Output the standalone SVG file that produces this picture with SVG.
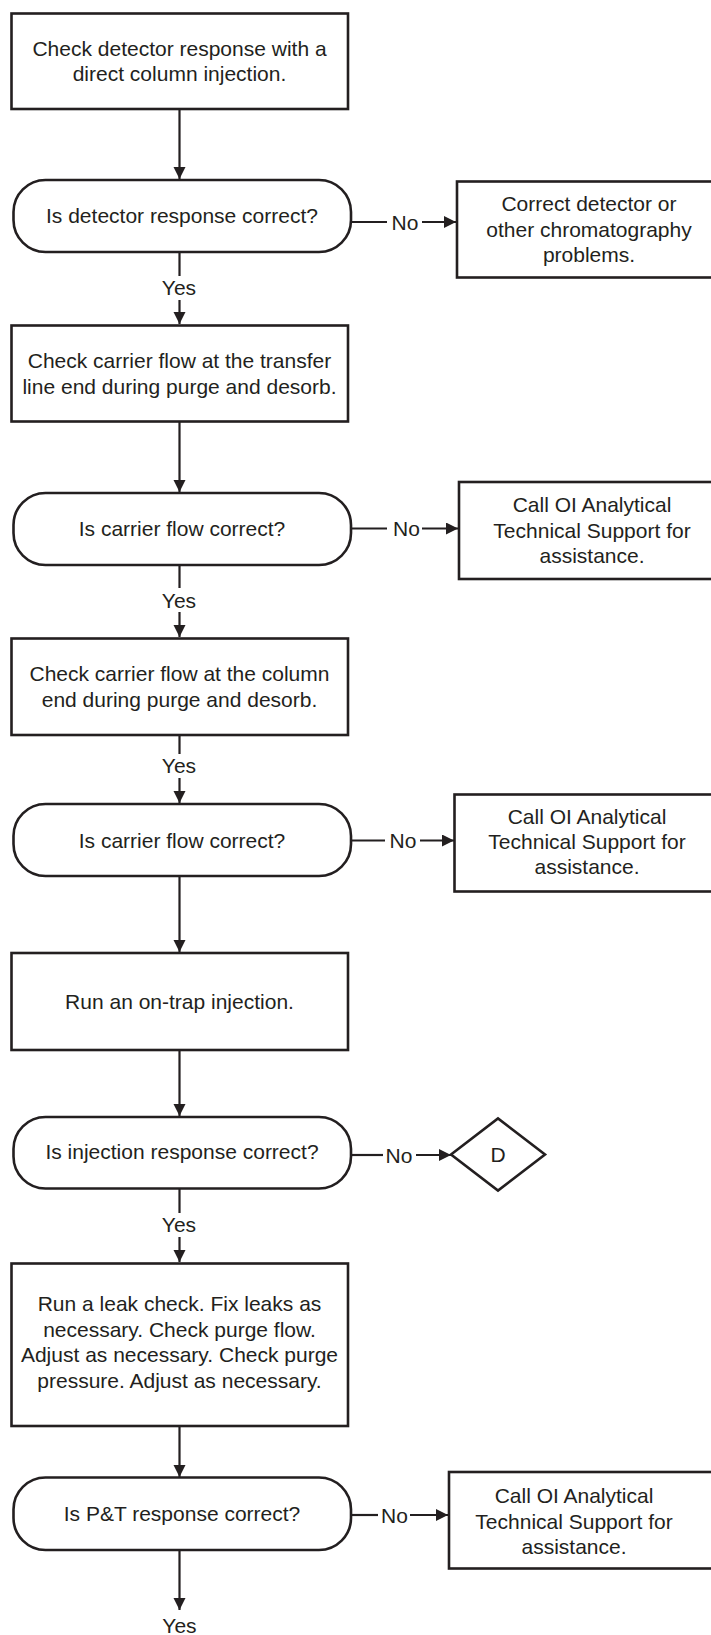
<svg xmlns="http://www.w3.org/2000/svg" width="711" height="1635" viewBox="0 0 711 1635">
<style>
.box{fill:#fff;stroke:#231f20;stroke-width:2.6}
.t{font-family:"Liberation Sans",Arial,sans-serif;font-size:21px;fill:#231f20;text-anchor:middle}
.c{fill:none;stroke:#231f20;stroke-width:2.2}
</style>
<defs>
<marker id="ah" markerUnits="userSpaceOnUse" markerWidth="13" markerHeight="13" refX="12" refY="6" orient="auto">
<path d="M0,0 L12,6 L0,12 z" fill="#231f20"/>
</marker>
</defs>
<rect width="711" height="1635" fill="#fff"/>
<g id="connectors">
<line class="c" x1="179.5" y1="109" x2="179.5" y2="179" marker-end="url(#ah)"/>
<line class="c" x1="351" y1="222" x2="387" y2="222"/>
<line class="c" x1="422" y1="222" x2="456" y2="222" marker-end="url(#ah)"/>
<text class="t" x="405" y="229.5">No</text>
<line class="c" x1="179.5" y1="252" x2="179.5" y2="276"/>
<text class="t" x="179" y="295">Yes</text>
<line class="c" x1="179.5" y1="300" x2="179.5" y2="324" marker-end="url(#ah)"/>
<line class="c" x1="179.5" y1="422" x2="179.5" y2="492" marker-end="url(#ah)"/>
<line class="c" x1="351" y1="528.5" x2="387" y2="528.5"/>
<line class="c" x1="422" y1="528.5" x2="458" y2="528.5" marker-end="url(#ah)"/>
<text class="t" x="406.5" y="536">No</text>
<line class="c" x1="179.5" y1="565" x2="179.5" y2="588"/>
<text class="t" x="179" y="607.5">Yes</text>
<line class="c" x1="179.5" y1="612" x2="179.5" y2="637" marker-end="url(#ah)"/>
<line class="c" x1="179.5" y1="735" x2="179.5" y2="754"/>
<text class="t" x="179" y="773">Yes</text>
<line class="c" x1="179.5" y1="778" x2="179.5" y2="803" marker-end="url(#ah)"/>
<line class="c" x1="351" y1="840.5" x2="385" y2="840.5"/>
<line class="c" x1="420" y1="840.5" x2="454" y2="840.5" marker-end="url(#ah)"/>
<text class="t" x="403" y="848">No</text>
<line class="c" x1="179.5" y1="876" x2="179.5" y2="952" marker-end="url(#ah)"/>
<line class="c" x1="179.5" y1="1050" x2="179.5" y2="1116" marker-end="url(#ah)"/>
<line class="c" x1="351" y1="1155" x2="383" y2="1155"/>
<line class="c" x1="416" y1="1155" x2="451" y2="1155" marker-end="url(#ah)"/>
<text class="t" x="399" y="1162.5">No</text>
<line class="c" x1="179.5" y1="1188" x2="179.5" y2="1213"/>
<text class="t" x="179" y="1231.5">Yes</text>
<line class="c" x1="179.5" y1="1237" x2="179.5" y2="1262" marker-end="url(#ah)"/>
<line class="c" x1="179.5" y1="1426" x2="179.5" y2="1477" marker-end="url(#ah)"/>
<line class="c" x1="351" y1="1515" x2="378" y2="1515"/>
<line class="c" x1="410" y1="1515" x2="448" y2="1515" marker-end="url(#ah)"/>
<text class="t" x="394.5" y="1522.5">No</text>
<line class="c" x1="179.5" y1="1550" x2="179.5" y2="1610" marker-end="url(#ah)"/>
<text class="t" x="179.5" y="1633">Yes</text>
</g>
<g id="n1">
<rect class="box" x="11.5" y="13.5" width="336.5" height="95.5"/>
<text class="t" x="179.5" y="55.5">Check detector response with a</text>
<text class="t" x="179.5" y="81">direct column injection.</text>
</g>
<g id="d1">
<rect class="box" x="13.5" y="180" width="337.5" height="72" rx="32" ry="32"/>
<text class="t" x="182" y="222.5">Is detector response correct?</text>
</g>
<g id="r1">
<rect class="box" x="457" y="181.5" width="260" height="96"/>
<text class="t" x="589" y="210.5">Correct detector or</text>
<text class="t" x="589" y="236.5">other chromatography</text>
<text class="t" x="589" y="261.5">problems.</text>
</g>
<g id="n2">
<rect class="box" x="11.5" y="325.5" width="336.5" height="96"/>
<text class="t" x="179.5" y="367.5">Check carrier flow at the transfer</text>
<text class="t" x="179.5" y="393.5">line end during purge and desorb.</text>
</g>
<g id="d2">
<rect class="box" x="13.5" y="493" width="337.5" height="72" rx="32" ry="32"/>
<text class="t" x="182" y="535.5">Is carrier flow correct?</text>
</g>
<g id="r2">
<rect class="box" x="459" y="482" width="260" height="97"/>
<text class="t" x="592" y="511.5">Call OI Analytical</text>
<text class="t" x="592" y="537.5">Technical Support for</text>
<text class="t" x="592" y="562.5">assistance.</text>
</g>
<g id="n3">
<rect class="box" x="11.5" y="638.5" width="336.5" height="96.5"/>
<text class="t" x="179.5" y="681">Check carrier flow at the column</text>
<text class="t" x="179.5" y="706.5">end during purge and desorb.</text>
</g>
<g id="d3">
<rect class="box" x="13.5" y="804" width="337.5" height="72" rx="32" ry="32"/>
<text class="t" x="182" y="847.5">Is carrier flow correct?</text>
</g>
<g id="r3">
<rect class="box" x="454.5" y="794.5" width="260" height="97"/>
<text class="t" x="587" y="823.5">Call OI Analytical</text>
<text class="t" x="587" y="849">Technical Support for</text>
<text class="t" x="587" y="874">assistance.</text>
</g>
<g id="n4">
<rect class="box" x="11.5" y="953" width="336.5" height="97"/>
<text class="t" x="179.5" y="1009">Run an on-trap injection.</text>
</g>
<g id="d4">
<rect class="box" x="13.5" y="1117" width="337.5" height="71.5" rx="32" ry="32"/>
<text class="t" x="182" y="1159">Is injection response correct?</text>
</g>
<g id="D">
<polygon class="box" points="451,1154.5 498,1118.5 545,1154.5 498,1190.5"/>
<text class="t" x="498" y="1162">D</text>
</g>
<g id="n5">
<rect class="box" x="11.5" y="1263.5" width="336.5" height="162.5"/>
<text class="t" x="179.5" y="1310.5">Run a leak check. Fix leaks as</text>
<text class="t" x="179.5" y="1336.5">necessary. Check purge flow.</text>
<text class="t" x="179.5" y="1361.5">Adjust as necessary. Check purge</text>
<text class="t" x="179.5" y="1387.5">pressure. Adjust as necessary.</text>
</g>
<g id="d5">
<rect class="box" x="13.5" y="1477.5" width="337.5" height="72.5" rx="32" ry="32"/>
<text class="t" x="182" y="1521">Is P&amp;T response correct?</text>
</g>
<g id="r5">
<rect class="box" x="449" y="1472" width="265" height="96.5"/>
<text class="t" x="574" y="1502.5">Call OI Analytical</text>
<text class="t" x="574" y="1528.5">Technical Support for</text>
<text class="t" x="574" y="1553.5">assistance.</text>
</g>
</svg>
